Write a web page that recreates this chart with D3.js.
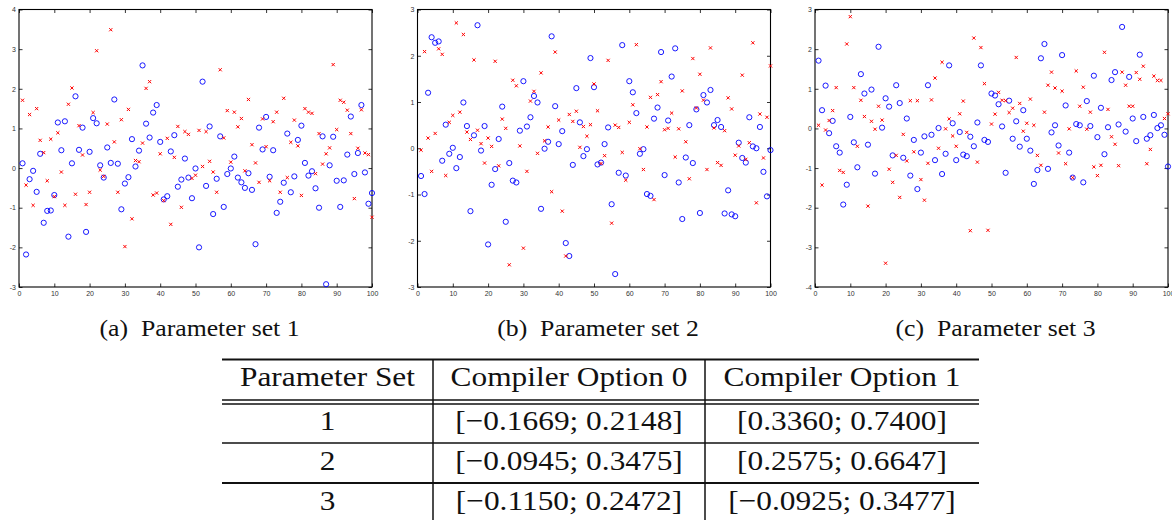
<!DOCTYPE html>
<html>
<head>
<meta charset="utf-8">
<script src="https://cdn.jsdelivr.net/npm/d3@7"></script>
<style>
  body { margin: 0; background: #fff; }
  .tick text { font-family: "Liberation Sans", Arial, sans-serif; font-size: 7px; fill: #333; }
  .tick line { stroke: #000; stroke-width: 0.8; }
  .serif { font-family: "Liberation Serif", "Times New Roman", serif; fill: #111; }
</style>
</head>
<body>
<div id="chart"></div>
<script>
// blue circles / red crosses, one value per run 1..100
var set1Circle = [0.12, -2.18, -0.28, -0.07, -0.6, 0.36, -1.38, -1.08, -1.07, -0.68,
  1.15, 0.45, 1.18, -1.73, 0.12, 1.81, 0.46, 1.02, -1.61, 0.41,
  1.26, 1.13, 0.07, -0.24, 0.52, 0.13, 1.73, 0.11, -1.04, -0.39,
  -0.23, 0.73, 0.04, 0.44, 2.59, 1.12, 0.77, 1.4, 1.59, 0.66,
  -0.79, -0.71, 0.42, 0.83, -0.47, -0.29, 0.24, -0.24, -0.76, -0.01,
  -2.0, 2.18, -0.45, 1.05, -1.16, -0.27, 0.8, -0.98, -0.15, -0.01,
  0.29, -0.24, -0.36, -0.5, -0.13, -0.55, -1.92, 1.02, 0.47, 1.29,
  -0.22, 0.45, -1.13, -0.85, -0.37, 0.87, -0.61, -0.21, 0.71, 1.07,
  0.13, -0.19, -0.08, -0.51, -1.0, 0.8, -2.93, 0.07, 0.79, -0.32,
  -0.98, -0.31, 0.34, 1.3, -0.15, 0.38, 1.59, -0.11, -0.9, -0.63];
var set1Cross = [1.71, -0.43, 1.35, -0.94, 1.5, 0.7, 0.39, -0.32, 0.73, -0.72,
  0.89, -0.1, -0.94, 1.61, 2.02, -0.66, 1.07, 0.33, -0.92, -0.61,
  1.4, 2.96, -0.05, -0.21, 1.11, 3.49, 0.66, -0.61, 1.22, -1.98,
  1.48, -1.28, 0.19, 0.16, 0.63, 2.01, 2.18, -0.68, -0.63, 0.36,
  -0.82, 0.75, -1.42, 0.27, 1.05, -0.99, 0.92, 0.85, -0.26, -0.18,
  0.95, 0.04, 0.92, 0.17, -0.1, -0.61, 2.48, 0.76, 1.45, 0.15,
  1.41, 1.04, 1.25, -0.07, 1.73, 0.59, 0.13, -0.36, 1.24, 0.54,
  -0.32, 1.17, 1.41, -0.61, 1.76, -0.24, 0.65, 1.21, 0.56, -0.69,
  1.5, 1.41, 1.38, -0.14, 0.87, 0.1, 0.36, 0.51, 2.61, 0.97,
  1.71, 1.66, 1.46, 0.87, -0.77, 0.5, 1.47, 0.38, 0.34, -1.24];
var set2Circle = [-0.6, -0.99, 1.2, 2.4, 2.28, 2.31, -0.27, 0.51, -0.12, 0.01,
  -0.43, -0.19, 0.99, 0.48, -1.36, 0.28, 2.66, -0.05, 0.48, -2.08,
  -0.79, -0.45, 0.2, 0.9, -1.59, -0.32, -0.7, -0.74, 0.38, 1.45,
  0.47, 0.67, 1.13, 0.99, -1.31, -0.01, 0.14, 2.42, 0.91, 0.09,
  0.37, -2.05, -2.33, -0.36, 1.3, 0.56, -0.17, -0.02, 1.95, 1.32,
  -0.35, -0.31, 0.09, 0.45, -1.21, -2.72, -0.53, 2.23, -0.59, 1.45,
  1.21, 0.76, -0.12, -0.02, -0.99, -1.03, 0.64, 0.88, 2.08, -0.58,
  0.6, 1.55, 2.16, -0.74, -1.53, -0.2, 0.5, -0.32, 0.84, -1.4,
  1.15, 0.99, 1.26, 0.5, 0.61, 0.46, -1.41, -0.91, -1.43, -1.47,
  0.12, -0.21, -0.31, 0.67, 0.04, 0.0, 0.46, -0.51, -1.04, -0.04];
var set2Cross = [-0.04, 2.09, 0.22, -0.5, 0.32, 2.15, 2.03, -0.59, 0.56, 0.71,
  2.71, 0.78, 2.46, 0.35, 0.19, 1.91, 0.39, 0.1, -0.32, 0.22,
  0.04, 1.88, -0.38, 0.63, 0.43, -2.52, 1.47, 1.35, 0.05, -2.16,
  -0.5, 1.02, 1.23, -0.11, 1.63, 0.16, 0.46, -0.94, 2.08, 0.61,
  -1.36, -2.33, 0.73, 0.58, 0.8, 0.02, 0.47, 0.26, 0.51, 1.39,
  0.81, -0.33, -0.16, 1.9, -1.62, 0.5, 0.45, -0.09, -0.69, 0.56,
  0.94, 2.24, -0.01, -0.46, 0.46, 1.1, -1.11, 1.16, 1.44, 0.4,
  0.43, 0.76, -0.19, 0.42, 1.24, 0.14, -0.66, 1.94, 0.87, 1.6,
  1.04, -0.46, 2.17, 0.44, -0.31, -0.37, 0.38, 1.09, 0.85, -0.15,
  0.05, 1.58, -0.24, 0.12, 2.28, -1.18, 0.74, -0.21, 0.67, 1.78];
var set3Circle = [1.71, 0.46, 1.08, -0.12, 0.19, -0.45, -0.61, -1.92, -1.42, 0.29,
  -0.35, -0.98, 1.37, 0.88, -0.41, 0.98, -1.14, 2.06, 0.02, 0.76,
  0.55, -0.68, 1.09, 0.64, -0.74, 0.25, -1.19, -0.29, -1.53, -0.61,
  -0.2, 1.09, -0.16, -0.8, 0.01, -1.15, -0.64, 1.59, 0.13, -0.8,
  -0.09, -0.66, -0.7, -0.21, -0.45, 0.15, 1.59, -0.29, -0.34, 0.88,
  0.83, 0.61, 0.05, -1.12, 0.7, -0.26, 0.18, -0.46, 0.46, -0.26,
  -0.56, -1.4, -1.05, 1.77, 2.13, -1.02, -0.1, 0.08, -0.43, 1.85,
  0.58, -0.61, -1.24, 0.11, 0.08, -1.36, 0.69, 0.06, 1.33, -0.22,
  0.52, -0.65, 0.03, 1.22, 1.42, 0.1, 2.56, -0.08, 1.3, 0.25,
  -0.32, 1.86, 0.29, -0.26, -0.17, 0.34, 0.01, 0.08, -0.16, -0.96];
var set3Cross = [0.08, -1.43, -0.04, 0.2, 0.45, 1.03, -1.06, -1.11, 2.13, 2.82,
  1.03, -0.45, 0.71, 0.3, -1.96, 0.18, -0.02, 0.56, 0.21, -3.4,
  -1.03, -1.36, -0.68, -1.74, -0.15, -0.82, 0.7, -0.59, 0.7, -1.29,
  -1.81, -0.88, 0.72, 1.27, -0.5, 1.67, -0.01, 0.24, -0.19, -0.45,
  0.37, 0.69, -0.1, -2.58, 2.28, -0.85, 2.04, 1.13, -2.57, 0.11,
  0.36, 0.91, 0.71, 0.7, 0.4, 0.51, 1.79, 0.63, -0.07, 0.13,
  0.74, 0.08, -0.68, -0.93, 0.41, 1.09, 1.42, 1.02, -0.62, 0.94,
  -0.89, -0.01, -1.24, 1.45, 0.56, 1.04, -0.02, 0.41, -0.97, -1.19,
  -0.93, 1.92, 0.48, -0.21, -0.4, -0.94, 1.42, 1.09, 0.56, 0.56,
  1.41, 1.24, 1.57, -0.89, -0.53, 1.32, 1.21, 1.21, 0.25, 0.37];

var xTicks = [0, 10, 20, 30, 40, 50, 60, 70, 80, 90, 100];
var yTicks = [
  [-3, -2, -1, 0, 1, 2, 3, 4],
  [-3, -2, -1, 0, 1, 2, 3],
  [-4, -3, -2, -1, 0, 1, 2, 3]
];
var captions = ["(a)\u2002Parameter set 1", "(b)\u2002Parameter set 2", "(c)\u2002Parameter set 3"];

var tableHeader = ["Parameter Set", "Compiler Option 0", "Compiler Option 1"];
var paramSets = ["1", "2", "3"];
var option0 = ["[\u22120.1669; 0.2148]", "[\u22120.0945; 0.3475]", "[\u22120.1150; 0.2472]"];
var option1 = ["[0.3360; 0.7400]", "[0.2575; 0.6647]", "[\u22120.0925; 0.3477]"];

var circleSeries = [set1Circle, set2Circle, set3Circle];
var crossSeries = [set1Cross, set2Cross, set3Cross];

var _width = 1172, _height = 520,
  _panelLeft = [19, 417.5, 815],
  _panelWidth = 353,
  _panelTop = 9.5, _panelBottom = 287,
  _stretch = 1.12;

var svg = d3.select("#chart").append("svg")
  .attr("width", _width)
  .attr("height", _height);

svg.append("rect")
  .attr("width", _width)
  .attr("height", _height)
  .attr("fill", "#fff");

function renderPanel(k) {
  var left = _panelLeft[k];
  var yt = yTicks[k];
  var x = d3.scaleLinear().domain([0, 100]).range([left, left + _panelWidth]);
  var y = d3.scaleLinear().domain([yt[0], yt[yt.length - 1]]).range([_panelBottom, _panelTop]);

  var g = svg.append("g").attr("class", "panel");

  g.append("g")
    .attr("transform", "translate(0," + _panelBottom + ")")
    .call(d3.axisBottom(x).tickValues(xTicks).tickSizeInner(-3.5).tickSizeOuter(0).tickPadding(4)
      .tickFormat(function (d) { return String(d); }));
  g.append("g")
    .attr("transform", "translate(0," + _panelTop + ")")
    .call(d3.axisTop(x).tickValues(xTicks).tickSizeInner(-3.5).tickSizeOuter(0).tickFormat(""));
  g.append("g")
    .attr("transform", "translate(" + left + ",0)")
    .call(d3.axisLeft(y).tickValues(yt).tickSizeInner(-3.5).tickSizeOuter(0).tickPadding(3)
      .tickFormat(function (d) { return String(d); }));
  g.append("g")
    .attr("transform", "translate(" + (left + _panelWidth) + ",0)")
    .call(d3.axisRight(y).tickValues(yt).tickSizeInner(-3.5).tickSizeOuter(0).tickFormat(""));

  g.selectAll(".domain").remove();

  g.append("rect")
    .attr("x", left)
    .attr("y", _panelTop)
    .attr("width", _panelWidth)
    .attr("height", _panelBottom - _panelTop)
    .attr("fill", "none")
    .attr("stroke", "#000")
    .attr("stroke-width", 1.1);

  g.selectAll("circle.pt")
    .data(circleSeries[k])
    .enter().append("circle")
    .attr("class", "pt")
    .attr("cx", function (d, i) { return x(i + 1); })
    .attr("cy", function (d) { return y(d); })
    .attr("r", 2.6)
    .attr("fill", "none")
    .attr("stroke", "#0000ff")
    .attr("stroke-width", 0.9);

  g.selectAll("path.pt")
    .data(crossSeries[k])
    .enter().append("path")
    .attr("class", "pt")
    .attr("transform", function (d, i) {
      return "translate(" + x(i + 1) + "," + y(d) + ")";
    })
    .attr("d", "M-1.6,-1.6L1.6,1.6M-1.6,1.6L1.6,-1.6")
    .attr("stroke", "#ff0000")
    .attr("stroke-width", 1);

  svg.append("text")
    .attr("class", "serif")
    .attr("transform", "translate(" + (left + _panelWidth / 2 + 4) + ",336) scale(" + _stretch + ",1)")
    .attr("text-anchor", "middle")
    .style("font-size", "23px")
    .text(captions[k]);
}

[0, 1, 2].forEach(renderPanel);

function renderTable() {
  var cols = [222, 433, 705, 979];
  var t = svg.append("g").attr("class", "table");

  function hline(yy, w) {
    t.append("line")
      .attr("x1", cols[0]).attr("x2", cols[3])
      .attr("y1", yy).attr("y2", yy)
      .attr("stroke", "#111").attr("stroke-width", w);
  }
  hline(359.5, 2);
  hline(400, 1.4);
  hline(404, 1.4);
  hline(443, 1.6);
  hline(483, 2);

  [cols[1], cols[2]].forEach(function (cx) {
    t.append("line")
      .attr("x1", cx).attr("x2", cx)
      .attr("y1", 359).attr("y2", _height)
      .attr("stroke", "#111").attr("stroke-width", 1.5);
  });

  function cell(col, yy, txt) {
    t.append("text")
      .attr("class", "serif")
      .attr("transform", "translate(" + ((cols[col] + cols[col + 1]) / 2) + "," + yy + ") scale(" + _stretch + ",1)")
      .attr("text-anchor", "middle")
      .style("font-size", "28px")
      .text(txt);
  }

  tableHeader.forEach(function (h, i) { cell(i, 386, h); });
  paramSets.forEach(function (p, r) {
    var yy = 430 + r * 40;
    cell(0, yy, p);
    cell(1, yy, option0[r]);
    cell(2, yy, option1[r]);
  });
}

renderTable();
</script>
</body>
</html>
